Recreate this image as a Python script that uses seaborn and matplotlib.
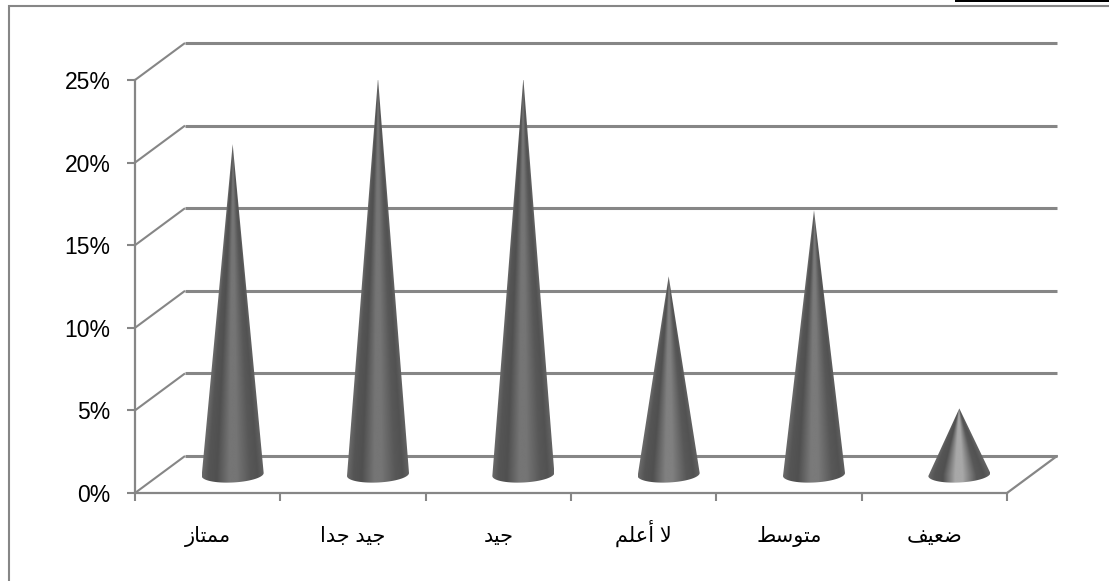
import numpy as np
import pandas as pd
import matplotlib
matplotlib.use("Agg")
import matplotlib.pyplot as plt
from matplotlib.lines import Line2D
from matplotlib.patches import Rectangle, PathPatch
from matplotlib.path import Path
from matplotlib.colors import LinearSegmentedColormap, to_hex
import seaborn as sns

# ---- data ----
categories = ["ممتاز", "جيد جدا", "جيد", "لا أعلم", "متوسط", "ضعيف"]
values = [20, 24, 24, 12, 16, 4]
y_ticks = [0, 5, 10, 15, 20, 25]

# ---- Arabic shaping: matplotlib neither joins letters nor lays them out right to left ----
FORMS = {  # isolated, final, initial, medial
    "ا": (0xFE8D, 0xFE8E, None, None), "أ": (0xFE83, 0xFE84, None, None),
    "د": (0xFEA9, 0xFEAA, None, None), "ز": (0xFEAF, 0xFEB0, None, None),
    "و": (0xFEED, 0xFEEE, None, None),
    "ت": (0xFE95, 0xFE96, 0xFE97, 0xFE98), "ج": (0xFE9D, 0xFE9E, 0xFE9F, 0xFEA0),
    "س": (0xFEB1, 0xFEB2, 0xFEB3, 0xFEB4), "ض": (0xFEBD, 0xFEBE, 0xFEBF, 0xFEC0),
    "ط": (0xFEC1, 0xFEC2, 0xFEC3, 0xFEC4), "ع": (0xFEC9, 0xFECA, 0xFECB, 0xFECC),
    "ف": (0xFED1, 0xFED2, 0xFED3, 0xFED4), "ل": (0xFEDD, 0xFEDE, 0xFEDF, 0xFEE0),
    "م": (0xFEE1, 0xFEE2, 0xFEE3, 0xFEE4), "ي": (0xFEF1, 0xFEF2, 0xFEF3, 0xFEF4),
}


def shape(text):
    out = []
    prev_joins = False
    i = 0
    while i < len(text):
        ch = text[i]
        if ch not in FORMS:
            out.append(ch)
            prev_joins = False
            i += 1
            continue
        if ch == "ل" and i + 1 < len(text) and text[i + 1] == "ا":
            out.append(chr(0xFEFC if prev_joins else 0xFEFB))
            prev_joins = False
            i += 2
            continue
        iso, fin, ini, med = FORMS[ch]
        next_ok = i + 1 < len(text) and text[i + 1] in FORMS and ini is not None
        if prev_joins and next_ok:
            code = med
        elif prev_joins:
            code = fin
        elif next_ok:
            code = ini
        else:
            code = iso
        out.append(chr(code))
        prev_joins = ini is not None
        i += 1
    return "".join(reversed(out))


# ---- style ----
sns.set_style("white")
plt.rcParams["font.family"] = ["Liberation Sans", "DejaVu Sans"]
LINE = "#868686"

W, H = 1109, 581
fig = plt.figure(figsize=(W / 100, H / 100), dpi=100, facecolor="white")
ax = fig.add_axes([135 / W, (H - 493) / H, 872 / W, 413 / H])

df = pd.DataFrame({"category": [shape(c) for c in categories], "value": values})
sns.barplot(data=df, x="category", y="value", ax=ax, width=0.4, color="#666666", legend=False)
ax.set_xlim(-0.5, 5.5)
ax.set_ylim(0, 25)
ax.set_xlabel("")
ax.set_ylabel("")

px_x = 872 / 6      # pixels per category
px_y = 413 / 25     # pixels per percentage point
dx = 50 / px_x      # depth of the floor
dy = 37 / px_y

# back walls and floor, all taken from the y scale
for t in y_ticks:
    ax.plot([-0.5, -0.5 + dx], [t, t + dy], color=LINE, lw=1.5, clip_on=False, zorder=1,
            solid_capstyle="butt")
    ax.plot([-0.5 + dx, 5.5 + dx], [t + dy, t + dy], color=LINE, lw=2.2, clip_on=False, zorder=1,
            solid_capstyle="butt")
ax.plot([5.5, 5.5 + dx], [0, dy], color=LINE, lw=1.6, clip_on=False, zorder=1)

# axes
for side in ("top", "right"):
    ax.spines[side].set_visible(False)
for side in ("left", "bottom"):
    ax.spines[side].set_color(LINE)
    ax.spines[side].set_linewidth(1.6)
ax.set_yticks(y_ticks)
ax.set_yticklabels([f"{t}%" for t in y_ticks])
ax.set_xticks(np.arange(-0.5, 6, 1), minor=True)
ax.tick_params(axis="y", length=5.8, width=1.5, color=LINE, labelsize=16.5, pad=12,
               left=True, labelcolor="black")
ax.tick_params(axis="x", which="major", length=0, labelsize=15, pad=35.5, labelcolor="black")
ax.tick_params(axis="x", which="minor", length=5.8, width=1.5, color=LINE, bottom=True)
for lab in ax.get_xticklabels():
    lab.set_verticalalignment("baseline")


def cone_cmap(v):
    """Horizontal shading of a cone: the short ones catch more light in the middle."""
    c = np.interp(v, [4, 12, 20], [0.66, 0.50, 0.46])
    mid = to_hex((c, c, c))
    return LinearSegmentedColormap.from_list(
        "cone",
        [(0.0, "#6a6a6a"), (0.1, "#555555"), (0.24, "#505050"), (0.44, mid), (0.56, mid),
         (0.78, "#585858"), (0.9, "#525252"), (1.0, "#626262")],
    )


# cones, built on the geometry of the seaborn bars
rx = 31 / px_x
ry = 8 / px_y
tilt = 1.5 / px_y
ox, oy = 25 / px_x, 18.5 / px_y
for bar in list(ax.patches):
    cx = bar.get_x() + bar.get_width() / 2 + ox
    v = bar.get_height()
    bar.set_visible(False)
    cy = oy
    tip = cy + v
    ys = np.linspace(cy - ry - tilt, tip, 500)
    xs = np.linspace(cx - rx, cx + rx, 200)
    X, Y = np.meshgrid(xs, ys)
    half = np.clip((tip - Y) / v, 0.004, None) * rx
    half = np.minimum(half, rx)
    U = np.clip((X - cx) / half, -1, 1)
    im = ax.imshow((U + 1) / 2, extent=(xs[0], xs[-1], ys[0], ys[-1]), origin="lower",
                   cmap=cone_cmap(v), vmin=0, vmax=1, aspect="auto", zorder=3,
                   interpolation="bilinear")
    t = np.linspace(np.pi, 2 * np.pi, 40)
    verts = [(cx, tip)] + list(zip(cx + rx * np.cos(t),
                                   cy + ry * np.sin(t) + tilt * np.cos(t))) + [(cx, tip)]
    codes = [Path.MOVETO] + [Path.LINETO] * (len(verts) - 2) + [Path.CLOSEPOLY]
    clip = PathPatch(Path(verts, codes), transform=ax.transData, fc="none", ec="none")
    ax.add_patch(clip)
    im.set_clip_path(clip)
ax.set_xlim(-0.5, 5.5)
ax.set_ylim(0, 25)

# outer chart frame and the black rule at the top right
fig.add_artist(Line2D([8.5 / W, 8.5 / W, 1], [0, 1 - 5.5 / H, 1 - 5.5 / H], color=LINE, lw=1.5,
                      transform=fig.transFigure, solid_joinstyle="miter"))
fig.add_artist(Rectangle((955 / W, 1 - 2 / H), 154 / W, 2 / H, color="black",
                         transform=fig.transFigure, lw=0))

fig.savefig("out.png", dpi=100, facecolor="white")
